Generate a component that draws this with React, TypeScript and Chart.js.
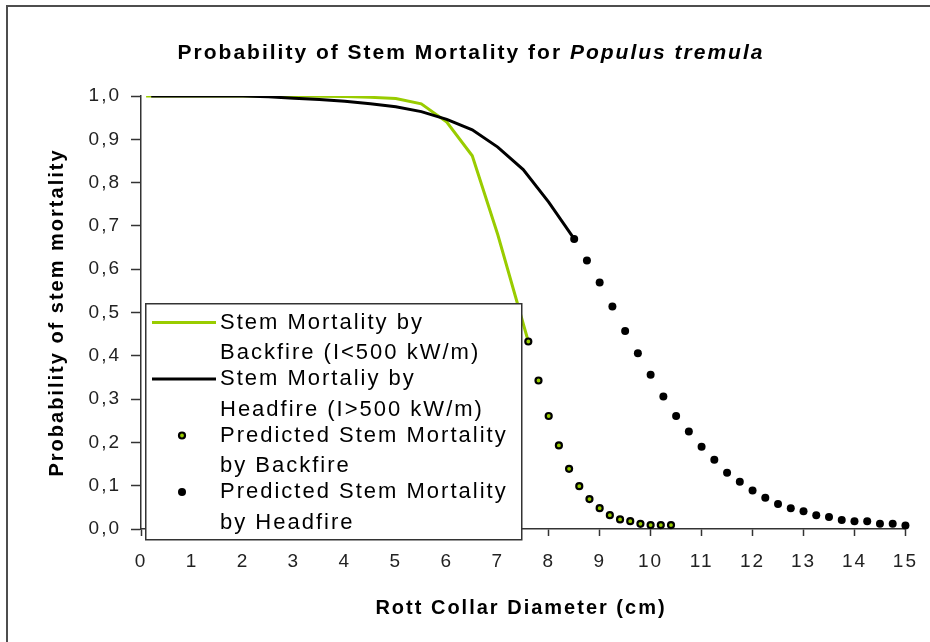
import React, { useEffect, useRef } from "react";
import { Chart, registerables } from "chart.js";

Chart.register(...registerables);

const FONT = '"Liberation Sans", Arial, Helvetica, sans-serif';

const chartTitle = "Probability of Stem Mortality for ";
const chartTitleItalic = "Populus tremula";
const xAxisTitle = "Rott Collar Diameter (cm)";
const yAxisTitle = "Probability of stem mortality";

const xTickLabels = ["0", "1", "2", "3", "4", "5", "6", "7", "8", "9", "10", "11", "12", "13", "14", "15"];
const yTickLabels = ["0,0", "0,1", "0,2", "0,3", "0,4", "0,5", "0,6", "0,7", "0,8", "0,9", "1,0"];

const backfireLineX = [0.1, 1, 2, 3, 4, 4.5, 5, 5.5, 6, 6.5, 7, 7.6];
const backfireLineY = [1.0, 1.0, 1.0, 1.0, 0.999, 0.997, 0.994, 0.982, 0.94, 0.862, 0.68, 0.433];

const headfireLineX = [0.2, 1, 2, 2.5, 3, 3.5, 4, 4.5, 5, 5.5, 6, 6.5, 7, 7.5, 8, 8.5];
const headfireLineY = [1.0, 1.0, 1.0, 0.998, 0.995, 0.992, 0.988, 0.982, 0.975, 0.964, 0.946, 0.922, 0.882, 0.83, 0.755, 0.67];

const backfirePredX = [7.6, 7.8, 8.0, 8.2, 8.4, 8.6, 8.8, 9.0, 9.2, 9.4, 9.6, 9.8, 10.0, 10.2, 10.4];
const backfirePredY = [0.433, 0.343, 0.261, 0.193, 0.139, 0.099, 0.069, 0.048, 0.032, 0.022, 0.018, 0.012, 0.009, 0.009, 0.009];

const headfirePredX = [
  8.5, 8.75, 9.0, 9.25, 9.5, 9.75, 10.0, 10.25, 10.5, 10.75, 11.0, 11.25, 11.5, 11.75,
  12.0, 12.25, 12.5, 12.75, 13.0, 13.25, 13.5, 13.75, 14.0, 14.25, 14.5, 14.75, 15.0,
];
const headfirePredY = [
  0.67, 0.62, 0.569, 0.514, 0.457, 0.406, 0.356, 0.306, 0.261, 0.225, 0.19, 0.16, 0.13, 0.109,
  0.089, 0.072, 0.058, 0.048, 0.041, 0.032, 0.028, 0.021, 0.018, 0.018, 0.012, 0.012, 0.008,
];

const legendLabels = [
  ["Stem Mortality by", "Backfire (I<500 kW/m)"],
  ["Stem Mortaliy by", "Headfire (I>500 kW/m)"],
  ["Predicted Stem Mortality", "by Backfire"],
  ["Predicted Stem Mortality", "by Headfire"],
];

const GREEN = "#99CC00";

const toPoints = (xs: number[], ys: number[]) => xs.map((x, i) => ({ x, y: ys[i] }));

const decorPlugin = {
  id: "decor",
  beforeDraw(chart: any) {
    const ctx = chart.ctx;
    ctx.save();
    ctx.fillStyle = "#ffffff";
    ctx.fillRect(0, 0, chart.width, chart.height);
    ctx.fillStyle = "#4d4d4d";
    ctx.fillRect(6, 5, 2, chart.height);
    ctx.fillRect(6, 5, chart.width, 2);
    ctx.restore();
    (ctx as any).letterSpacing = "2px";
  },
  afterDraw(chart: any) {
    const ctx = chart.ctx;
    ctx.save();
    (ctx as any).letterSpacing = "2px";
    ctx.fillStyle = "#000";
    ctx.textBaseline = "middle";
    ctx.textAlign = "left";
    const f1 = `bold 21px ${FONT}`;
    const f2 = `italic bold 21px ${FONT}`;
    ctx.font = f1;
    const w1 = ctx.measureText(chartTitle).width;
    ctx.font = f2;
    const w2 = ctx.measureText(chartTitleItalic).width;
    const x0 = 471 - (w1 + w2) / 2;
    ctx.font = f1;
    ctx.fillText(chartTitle, x0, 53);
    ctx.font = f2;
    ctx.fillText(chartTitleItalic, x0 + w1, 53);

    ctx.font = `bold 20px ${FONT}`;
    ctx.textAlign = "center";
    ctx.fillText(xAxisTitle, 521, 608);

    // legend
    ctx.fillStyle = "#fff";
    ctx.fillRect(145, 303, 377, 237);
    ctx.strokeStyle = "#333";
    ctx.lineWidth = 1.5;
    ctx.strokeRect(145.75, 303.75, 376, 236);
    chart.data.datasets.forEach((ds: any, i: number) => {
      const y1 = 322.5 + 56.5 * i;
      if (ds.showLine) {
        ctx.strokeStyle = ds.borderColor;
        ctx.lineWidth = ds.borderWidth;
        ctx.beginPath();
        ctx.moveTo(152, y1);
        ctx.lineTo(216, y1);
        ctx.stroke();
      } else {
        ctx.beginPath();
        ctx.arc(182, y1, ds.pointRadius, 0, Math.PI * 2);
        ctx.fillStyle = ds.pointBackgroundColor;
        ctx.fill();
        if (ds.pointBorderWidth > 0) {
          ctx.strokeStyle = ds.pointBorderColor;
          ctx.lineWidth = ds.pointBorderWidth;
          ctx.stroke();
        }
      }
      ctx.fillStyle = "#000";
      ctx.font = `22px ${FONT}`;
      ctx.textAlign = "left";
      ctx.textBaseline = "middle";
      legendLabels[i].forEach((t, j) => ctx.fillText(t, 220, y1 + 30.5 * j));
    });
    ctx.restore();
    (ctx as any).letterSpacing = "0px";
  },
};

export default function App() {
  const ref = useRef<HTMLCanvasElement | null>(null);
  useEffect(() => {
    if (!ref.current) return;
    const chart = new Chart(ref.current, {
      type: "scatter",
      data: {
        datasets: [
          {
            label: legendLabels[0].join(" "),
            data: toPoints(backfireLineX, backfireLineY),
            showLine: true,
            borderColor: GREEN,
            borderWidth: 3,
            pointRadius: 0,
            tension: 0,
            order: 2,
          },
          {
            label: legendLabels[1].join(" "),
            data: toPoints(headfireLineX, headfireLineY),
            showLine: true,
            borderColor: "#000",
            borderWidth: 3,
            pointRadius: 0,
            tension: 0,
            order: 1,
          },
          {
            label: legendLabels[2].join(" "),
            data: toPoints(backfirePredX, backfirePredY),
            showLine: false,
            pointRadius: 3,
            pointBackgroundColor: GREEN,
            pointBorderColor: "#000",
            pointBorderWidth: 2.2,
            clip: false,
            order: 0,
          },
          {
            label: legendLabels[3].join(" "),
            data: toPoints(headfirePredX, headfirePredY),
            showLine: false,
            pointRadius: 4,
            pointBackgroundColor: "#000",
            pointBorderColor: "#000",
            pointBorderWidth: 0,
            clip: false,
            order: 0,
          },
        ] as any,
      },
      options: {
        responsive: false,
        animation: false,
        devicePixelRatio: 1,
        layout: { padding: { top: 96, right: 11, left: 0, bottom: 0 } },
        plugins: {
          legend: { display: false },
          title: { display: false },
          tooltip: { enabled: false },
        },
        scales: {
          x: {
            type: "linear",
            min: 0,
            max: 15,
            afterFit: (s: any) => {
              s.height = 113;
            },
            ticks: {
              stepSize: 1,
              autoSkip: false,
              maxRotation: 0,
              padding: 14,
              color: "#222",
              font: { family: FONT, size: 19 },
              callback: (_v: any, i: number) => xTickLabels[i],
            },
            grid: {
              drawOnChartArea: false,
              drawTicks: true,
              tickLength: 7,
              tickWidth: 1.5,
              tickColor: "#333",
            },
            border: { display: true, color: "#333", width: 1.5 },
          },
          y: {
            type: "linear",
            min: 0,
            max: 1,
            afterFit: (s: any) => {
              s.width = 141;
            },
            ticks: {
              stepSize: 0.1,
              padding: 10,
              color: "#222",
              font: { family: FONT, size: 19 },
              callback: (_v: any, i: number) => yTickLabels[i],
            },
            grid: {
              drawOnChartArea: false,
              drawTicks: true,
              tickLength: 10,
              tickWidth: 1.5,
              tickColor: "#333",
            },
            border: { display: true, color: "#333", width: 1.5 },
            title: {
              display: true,
              text: yAxisTitle,
              color: "#000",
              font: { family: FONT, size: 20, weight: "bold" },
              padding: { top: 45, bottom: 0 },
            },
          },
        },
      } as any,
      plugins: [decorPlugin],
    });
    return () => chart.destroy();
  }, []);
  return (
    <div style={{ position: "absolute", left: 0, top: 0, width: 930, height: 642 }}>
      <canvas ref={ref} width={930} height={642} style={{ display: "block", width: 930, height: 642 }} />
    </div>
  );
}
